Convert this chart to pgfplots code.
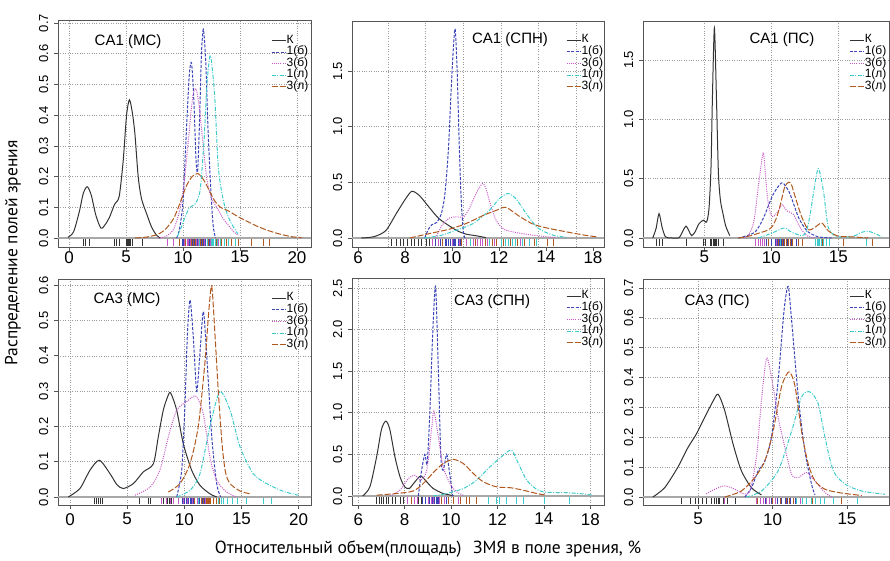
\documentclass[border=0pt]{standalone}
\usepackage{fontspec}
\setmainfont{Liberation Sans}
\newfontfamily\ptsans{PT Sans}
\usepackage{pgfplots}
\pgfplotsset{compat=1.18}
\definecolor{cK}{HTML}{333333}
\definecolor{cB}{HTML}{3A44B8}
\definecolor{cM}{HTML}{C658C6}
\definecolor{cC}{HTML}{3CCBCB}
\definecolor{cR}{HTML}{B0581E}
\definecolor{framec}{HTML}{555555}
\definecolor{gridc}{HTML}{9A9A9A}
\definecolor{zeroc}{HTML}{A8A8A8}
\pgfplotsset{
 panel/.style={
  scale only axis, anchor=south west,
  axis line style={framec, line width=0.8pt},
  tick style={framec, line width=0.7pt},
  tick align=outside, major tick length=4pt,
  xtick pos=left, ytick pos=left,
  grid=major,
  grid style={gridc, dotted, line width=0.6pt},
  minor grid style={gridc, dotted, line width=0.6pt},
  /pgf/number format/assume math mode=true,
  xticklabel style={font=\fontsize{17}{17}\selectfont, inner sep=0pt},
  yticklabel style={font=\fontsize{13}{13}\selectfont, rotate=90, anchor=south, inner sep=5.5pt,
    /pgf/number format/fixed, /pgf/number format/fixed zerofill, /pgf/number format/precision=1},
  legend style={draw=none, fill=none, anchor=north west, font=\fontsize{12}{12}\selectfont,
    nodes={inner sep=0.5pt, text height=8pt, text depth=2.6pt}, row sep=0pt, cells={anchor=west}},
  legend image code/.code={\draw[##1, line width=0.9pt] (0pt,0pt) -- (14pt,0pt);},
  every axis plot/.append style={line width=1pt},
 },
 sK/.style={color=cK, solid, smooth, tension=0.45},
 sB/.style={color=cB, dash pattern=on 3pt off 1.5pt, smooth, tension=0.45},
 sM/.style={color=cM, dash pattern=on 1pt off 1.2pt, smooth, tension=0.45},
 sC/.style={color=cC, dash pattern=on 4pt off 1.5pt on 1pt off 1.5pt, smooth, tension=0.45},
 sR/.style={color=cR, dash pattern=on 6pt off 2pt, smooth, tension=0.45},
 rugs/.style={only marks, mark=|, mark size=#1, mark options={solid, line width=0.7pt}, forget plot},
 zl/.style={zeroc, line width=1.4pt, forget plot},
}
\newcommand{\ttl}[3]{\node[font=\fontsize{15}{15}\selectfont] at (rel axis cs:#1,#2) {#3};}
\newcommand{\leg}{\addlegendentry{К}\addlegendentry{1(б)}\addlegendentry{3(б)}\addlegendentry{1(л)}\addlegendentry{3(л)}}
\begin{document}
\begin{tikzpicture}
\path[use as bounding box] (0pt,0pt) rectangle (890pt,560pt);
% ---------------- Panel 1: CA1 (MC)
\begin{axis}[panel, at={(58pt,313pt)}, width=253pt, height=227pt,
  xmin=-0.965, xmax=21.23, ymin=-0.0293, ymax=0.7101,
  xtick={0,5,10,15,20}, ytick={0,0.1,0.2,0.3,0.4,0.5,0.6,0.7},
  legend style={at={(0.830,0.945)}}]
\addplot[zl] coordinates {(-5,0) (30,0)};
\addplot[sK] coordinates {(-0.1,0.002) (0.4,0.02) (0.9,0.085) (1.25,0.145) (1.6,0.167) (1.95,0.14) (2.35,0.075) (2.8,0.032) (3.2,0.045) (3.58,0.07) (4.0,0.11) (4.4,0.135) (4.75,0.25) (5.05,0.4) (5.3,0.45) (5.55,0.41) (5.78,0.34) (6.07,0.2) (6.36,0.128) (6.8,0.08) (7.24,0.036) (7.68,0.009) (8.0,0)};
\addplot[sB] coordinates {(9.44,0) (9.7,0.03) (10.0,0.12) (10.3,0.35) (10.55,0.53) (10.75,0.57) (10.95,0.45) (11.15,0.25) (11.29,0.22) (11.45,0.38) (11.62,0.6) (11.79,0.68) (12.0,0.57) (12.2,0.35) (12.45,0.15) (12.65,0.04) (12.85,0)};
\addplot[sM] coordinates {(7.8,0) (8.5,0.005) (9.2,0.03) (9.7,0.09) (10.1,0.18) (10.5,0.33) (10.85,0.46) (11.15,0.485) (11.45,0.42) (11.8,0.29) (12.1,0.19) (12.5,0.13) (12.96,0.1) (13.5,0.065) (14.1,0.036) (14.5,0.018) (14.87,0.009)};
\addplot[sC] coordinates {(9.5,0.005) (9.8,0.03) (10.2,0.07) (10.6,0.1) (11.05,0.11) (11.5,0.155) (11.85,0.32) (12.1,0.5) (12.38,0.595) (12.6,0.54) (12.8,0.45) (13.1,0.23) (13.55,0.12) (14.1,0.058) (14.8,0.014)};
\addplot[sR] coordinates {(5.8,0) (6.8,0.003) (7.8,0.012) (8.5,0.03) (9.2,0.065) (9.8,0.12) (10.3,0.17) (10.8,0.2) (11.3,0.21) (11.8,0.19) (12.3,0.155) (12.8,0.12) (13.3,0.1) (14.0,0.088) (14.8,0.07) (15.6,0.055) (16.4,0.04) (17.2,0.028) (18.0,0.018) (18.8,0.01) (19.6,0.004) (20.4,0.001)};
\leg
\addplot[rugs=3.5pt, cK] table[header=false, x index=0, y expr=-0.0147, row sep=\\] {1.3\\1.45\\1.75\\4.0\\4.15\\4.4\\5.0\\5.1\\5.2\\5.3\\5.4\\5.55\\6.4\\};
\addplot[rugs=3.5pt, cB] table[header=false, x index=0, y expr=-0.0147, row sep=\\] {9.9\\10.0\\10.25\\10.4\\10.5\\10.6\\10.7\\10.8\\11.0\\11.3\\11.45\\11.6\\11.7\\11.8\\11.9\\12.0\\12.3\\};
\addplot[rugs=3.5pt, cM] table[header=false, x index=0, y expr=-0.0147, row sep=\\] {8.6\\9.15\\10.1\\10.35\\10.5\\10.65\\10.9\\11.05\\11.2\\11.35\\11.5\\11.9\\12.4\\12.8\\13.1\\};
\addplot[rugs=3.5pt, cC] table[header=false, x index=0, y expr=-0.0147, row sep=\\] {11.4\\12.1\\12.25\\12.5\\12.6\\12.7\\12.85\\13.0\\13.3\\13.6\\14.0\\14.6\\};
\addplot[rugs=3.5pt, cR] table[header=false, x index=0, y expr=-0.0147, row sep=\\] {9.7\\10.2\\10.7\\10.95\\11.1\\11.55\\11.7\\12.2\\12.9\\13.4\\13.8\\14.2\\14.9\\16.0\\17.07\\17.6\\};
\ttl{0.277}{0.903}{CA1 (МС)}
\end{axis}
% ---------------- Panel 2: CA1 (SPN)
\begin{axis}[panel, at={(352pt,313pt)}, width=252pt, height=226pt,
  xmin=5.745, xmax=16.47, ymin=-0.0809, ymax=1.9497,
  xtick={6,8,10,12,14,16}, xticklabels={6,8,10,12,14,18},
  xmajorgrids=false, xminorgrids=true, minor xtick={7.28,8.85,10.47,12.09,13.66,15.28}, minor tick length=0pt,
  ytick={0,0.5,1,1.5},
  legend style={at={(0.837,0.950)}}]
\addplot[zl] coordinates {(0,0) (30,0)};
\addplot[sK] coordinates {(6.14,0) (6.5,0.005) (6.8,0.02) (7.2,0.07) (7.63,0.22) (8.05,0.36) (8.3,0.42) (8.62,0.38) (9.05,0.27) (9.47,0.17) (10.18,0.07) (10.6,0.035) (11.03,0.02) (11.45,0.003)};
\addplot[sB] coordinates {(8.84,0) (9.0,0.08) (9.15,0.12) (9.35,0.14) (9.55,0.22) (9.7,0.4) (9.85,0.8) (9.98,1.4) (10.08,1.78) (10.14,1.87) (10.22,1.5) (10.3,0.9) (10.38,0.4) (10.47,0.08) (10.55,0)};
\addplot[sM] coordinates {(9.3,0) (9.6,0.12) (9.9,0.18) (10.2,0.19) (10.5,0.19) (10.75,0.27) (11.03,0.4) (11.3,0.49) (11.45,0.44) (11.6,0.33) (11.85,0.17) (12.2,0.08) (12.7,0.05) (13.3,0.03) (13.9,0.015) (14.4,0.003)};
\addplot[sC] coordinates {(8.8,0) (9.47,0.02) (10.18,0.07) (10.9,0.13) (11.6,0.25) (12.0,0.35) (12.38,0.4) (12.73,0.35) (13.16,0.22) (13.6,0.1) (14.0,0.05) (14.4,0.02) (14.9,0.005)};
\addplot[sR] coordinates {(8.2,0) (9.05,0.04) (9.9,0.08) (10.6,0.13) (11.3,0.2) (11.9,0.25) (12.3,0.275) (12.9,0.19) (13.45,0.125) (14.04,0.09) (14.9,0.054) (15.6,0.027) (16.2,0.009)};
\leg
\addplot[rugs=3.5pt, cK] table[header=false, x index=0, y expr=-0.0404, row sep=\\] {7.42\\7.65\\7.8\\7.95\\8.1\\8.25\\8.4\\8.55\\8.7\\8.9\\9.05\\};
\addplot[rugs=3.5pt, cB] table[header=false, x index=0, y expr=-0.0404, row sep=\\] {9.3\\9.5\\9.6\\9.7\\9.78\\9.85\\9.95\\10.05\\10.1\\10.15\\10.25\\10.35\\};
\addplot[rugs=3.5pt, cM] table[header=false, x index=0, y expr=-0.0404, row sep=\\] {9.15\\9.4\\10.0\\10.3\\10.6\\10.9\\11.1\\11.2\\11.3\\11.4\\11.5\\11.8\\12.2\\12.9\\};
\addplot[rugs=3.5pt, cC] table[header=false, x index=0, y expr=-0.0404, row sep=\\] {10.8\\11.6\\11.9\\12.1\\12.25\\12.4\\12.55\\12.7\\13.0\\13.3\\13.6\\};
\addplot[rugs=3.5pt, cR] table[header=false, x index=0, y expr=-0.0404, row sep=\\] {9.6\\10.4\\11.0\\11.4\\11.7\\11.9\\12.2\\12.5\\12.8\\13.1\\13.5\\14.05\\14.3\\};
\ttl{0.627}{0.916}{CA1 (СПН)}
\end{axis}
% ---------------- Panel 3: CA1 (PS)
\begin{axis}[panel, at={(643pt,313pt)}, width=246pt, height=226pt,
  xmin=0.425, xmax=18.78, ymin=-0.0758, ymax=1.828,
  xtick={5,10,15}, ytick={0,0.5,1,1.5},
  legend style={at={(0.826,0.950)}}]
\addplot[zl] coordinates {(-5,0) (30,0)};
\addplot[sK] coordinates {(1.15,0) (1.4,0.08) (1.62,0.205) (1.85,0.09) (2.1,0.01) (2.5,0.001) (3.1,0.002) (3.4,0.06) (3.63,0.1) (3.85,0.06) (4.05,0.02) (4.3,0.05) (4.6,0.12) (4.93,0.15) (5.17,0.135) (5.35,0.25) (5.5,0.6) (5.6,1.16) (5.75,1.77) (5.9,1.2) (6.05,0.55) (6.2,0.32) (6.4,0.2) (6.6,0.1) (6.9,0.02)};
\addplot[sB] coordinates {(7.54,0) (8.2,0.02) (8.78,0.05) (9.2,0.12) (9.53,0.2) (10.15,0.37) (10.77,0.465) (11.1,0.43) (11.4,0.37) (12.0,0.18) (12.4,0.1) (12.76,0.05) (13.5,0.01) (14.5,0)};
\addplot[sM] coordinates {(8.0,0.005) (8.28,0.02) (8.6,0.1) (8.78,0.2) (9.15,0.54) (9.4,0.72) (9.55,0.55) (9.73,0.32) (9.95,0.2) (10.15,0.18) (10.52,0.23) (10.82,0.28) (11.14,0.23) (11.64,0.2) (12.14,0.09) (12.64,0.02) (13.26,0)};
\addplot[sC] coordinates {(9.03,0) (10.02,0.04) (10.6,0.07) (11.0,0.085) (11.5,0.05) (12.26,0.02) (12.6,0.05) (12.9,0.2) (13.13,0.37) (13.5,0.585) (13.88,0.4) (14.1,0.2) (14.25,0.09) (14.6,0.03) (15.0,0.01) (15.8,0.01) (16.24,0.02) (16.8,0.05) (17.24,0.056) (17.7,0.04) (18.23,0.01)};
\addplot[sR] coordinates {(7.54,0) (8.5,0.02) (9.03,0.04) (9.6,0.06) (10.02,0.09) (10.35,0.16) (10.65,0.27) (11.0,0.43) (11.3,0.47) (11.5,0.45) (11.77,0.35) (12.26,0.18) (12.76,0.07) (13.26,0.09) (13.76,0.127) (14.25,0.06) (15.0,0.015) (16.0,0.01) (17.24,0)};
\leg
\addplot[rugs=3.5pt, cK] table[header=false, x index=0, y expr=-0.0379, row sep=\\] {1.44\\1.61\\1.87\\3.68\\4.93\\5.1\\5.45\\5.55\\5.65\\5.72\\5.78\\5.85\\5.92\\6.05\\6.42\\};
\addplot[rugs=3.5pt, cB] table[header=false, x index=0, y expr=-0.0379, row sep=\\] {9.6\\10.0\\10.3\\10.45\\10.6\\10.75\\10.9\\11.2\\11.5\\11.9\\};
\addplot[rugs=3.5pt, cM] table[header=false, x index=0, y expr=-0.0379, row sep=\\] {8.8\\9.0\\9.2\\9.3\\9.35\\9.45\\9.5\\10.4\\10.8\\10.95\\11.3\\};
\addplot[rugs=3.5pt, cC] table[header=false, x index=0, y expr=-0.0379, row sep=\\] {10.7\\11.0\\13.3\\13.4\\13.5\\13.6\\13.7\\13.9\\14.1\\14.3\\17.1\\};
\addplot[rugs=3.5pt, cR] table[header=false, x index=0, y expr=-0.0379, row sep=\\] {9.8\\10.5\\10.8\\11.0\\11.15\\11.3\\11.45\\11.6\\12.0\\12.3\\13.8\\15.4\\17.5\\};
\ttl{0.565}{0.916}{CA1 (ПС)}
\end{axis}
% ---------------- Panel 4: CA3 (MC)
\begin{axis}[panel, at={(58pt,55pt)}, width=253pt, height=226pt,
  xmin=-1.05, xmax=21.08, ymin=-0.0227, ymax=0.6176,
  xtick={0,5,10,15,20}, ytick={0,0.1,0.2,0.3,0.4,0.5,0.6},
  xticklabel style={yshift=-4pt},
  legend style={at={(0.830,0.950)}}]
\addplot[zl] coordinates {(-5,0) (30,0)};
\addplot[sK] coordinates {(-0.15,0) (0.87,0.024) (1.75,0.076) (2.57,0.104) (3.5,0.066) (4.1,0.035) (4.66,0.024) (5.54,0.038) (6.41,0.071) (7.29,0.094) (7.72,0.17) (8.16,0.246) (8.55,0.285) (8.8,0.295) (9.33,0.246) (9.91,0.151) (10.64,0.076) (11.37,0.033) (12.24,0.009) (12.83,0)};
\addplot[sB] coordinates {(9.33,0) (9.77,0.076) (10.06,0.265) (10.26,0.454) (10.5,0.558) (10.79,0.45) (11.08,0.3) (11.35,0.4) (11.66,0.525) (11.95,0.406) (12.4,0.17) (12.83,0.038) (13.18,0)};
\addplot[sM] coordinates {(5.69,0.005) (7.0,0.028) (7.87,0.076) (8.6,0.17) (9.33,0.246) (10.2,0.27) (11.0,0.286) (11.66,0.236) (12.24,0.113) (12.83,0.047) (13.7,0.014) (14.58,0)};
\addplot[sC] coordinates {(9.33,0) (10.5,0.019) (11.37,0.066) (12.24,0.2) (13.1,0.298) (14.0,0.246) (14.87,0.142) (16.03,0.066) (17.2,0.038) (18.66,0.016) (19.97,0.005)};
\addplot[sR] coordinates {(8.6,0.014) (9.62,0.038) (10.5,0.095) (11.22,0.2) (11.8,0.38) (12.15,0.53) (12.4,0.597) (12.7,0.45) (12.97,0.3) (13.3,0.15) (13.6,0.07) (14.0,0.038) (14.87,0.017) (15.74,0.009)};
\leg
\addplot[rugs=3pt, cK] table[header=false, x index=0, y expr=-0.0113, row sep=\\] {2.1\\2.3\\2.5\\2.65\\2.85\\6.1\\6.85\\7.05\\8.2\\8.5\\8.7\\8.9\\};
\addplot[rugs=3pt, cB] table[header=false, x index=0, y expr=-0.0113, row sep=\\] {9.8\\10.0\\10.2\\10.35\\10.5\\10.65\\10.8\\11.3\\11.45\\11.6\\11.75\\11.9\\};
\addplot[rugs=3pt, cM] table[header=false, x index=0, y expr=-0.0113, row sep=\\] {8.0\\8.4\\8.8\\9.0\\9.5\\9.9\\10.3\\10.7\\11.1\\11.8\\};
\addplot[rugs=3pt, cC] table[header=false, x index=0, y expr=-0.0113, row sep=\\] {11.2\\12.5\\13.0\\13.2\\13.4\\13.8\\14.2\\14.6\\15.45\\16.9\\17.6\\};
\addplot[rugs=3pt, cR] table[header=false, x index=0, y expr=-0.0113, row sep=\\] {10.9\\11.5\\11.7\\11.9\\12.0\\12.1\\12.2\\12.3\\12.5\\12.8\\13.1\\};
\ttl{0.273}{0.907}{CA3 (МС)}
\end{axis}
% ---------------- Panel 5: CA3 (SPN)
\begin{axis}[panel, at={(352pt,55pt)}, width=252pt, height=227pt,
  xmin=5.73, xmax=16.59, ymin=-0.1082, ymax=2.620,
  xtick={6,8,10,12,14,16}, xticklabels={6,8,10,12,14,18},
  ytick={0,0.5,1,1.5,2,2.5},
  xticklabel style={yshift=-4pt},
  legend style={at={(0.837,0.955)}}]
\addplot[zl] coordinates {(0,0) (30,0)};
\addplot[sK] coordinates {(6.19,0) (6.5,0.11) (6.79,0.47) (7.0,0.8) (7.19,0.9) (7.36,0.8) (7.58,0.47) (7.8,0.23) (8.0,0.11) (8.2,0.09) (8.44,0.17) (8.69,0.24) (8.95,0.17) (9.23,0.09) (9.66,0.03) (10.1,0.005)};
\addplot[sB] coordinates {(8.59,0) (8.73,0.31) (8.87,0.5) (8.97,0.39) (9.09,1.04) (9.2,1.9) (9.33,2.52) (9.45,1.52) (9.56,0.47) (9.66,0.31) (9.81,0.5) (9.92,0.31) (10.07,0)};
\addplot[sM] coordinates {(7.36,0) (7.8,0.07) (8.16,0.21) (8.44,0.25) (8.69,0.19) (8.95,0.31) (9.16,0.8) (9.26,1.02) (9.45,0.71) (9.66,0.35) (9.95,0.15) (10.24,0.05) (10.53,0.01)};
\addplot[sC] coordinates {(9.23,0) (9.81,0.03) (10.53,0.09) (11.1,0.19) (11.67,0.35) (12.25,0.49) (12.61,0.55) (12.9,0.39) (13.26,0.19) (13.69,0.08) (14.1,0.045) (14.98,0.04) (15.7,0.025) (16.1,0.01)};
\addplot[sR] coordinates {(6.79,0.01) (7.65,0.03) (8.37,0.06) (8.8,0.15) (9.23,0.28) (9.66,0.39) (10.1,0.44) (10.53,0.39) (10.96,0.27) (11.39,0.17) (11.96,0.11) (12.54,0.1) (13.1,0.07) (13.69,0.03) (14.1,0.01)};
\leg
\addplot[rugs=3.5pt, cK] table[header=false, x index=0, y expr=-0.0541, row sep=\\] {6.8\\6.9\\7.0\\7.1\\7.2\\7.3\\7.45\\7.6\\7.8\\7.95\\8.6\\8.7\\};
\addplot[rugs=3.5pt, cB] table[header=false, x index=0, y expr=-0.0541, row sep=\\] {8.75\\8.9\\9.05\\9.2\\9.3\\9.35\\9.4\\9.45\\9.8\\9.9\\};
\addplot[rugs=3.5pt, cM] table[header=false, x index=0, y expr=-0.0541, row sep=\\] {8.1\\8.4\\8.55\\9.0\\9.15\\9.25\\9.5\\9.7\\10.3\\};
\addplot[rugs=3.5pt, cC] table[header=false, x index=0, y expr=-0.0541, row sep=\\] {11.6\\11.96\\12.1\\12.4\\12.8\\13.1\\14.0\\15.1\\};
\addplot[rugs=3.5pt, cR] table[header=false, x index=0, y expr=-0.0541, row sep=\\] {8.3\\9.6\\9.9\\10.1\\10.4\\10.65\\10.8\\11.1\\};
\ttl{0.556}{0.894}{CA3 (СПН)}
\end{axis}
% ---------------- Panel 6: CA3 (PS)
\begin{axis}[panel, at={(643pt,55pt)}, width=246pt, height=226pt,
  xmin=1.309, xmax=17.82, ymin=-0.0268, ymax=0.730,
  xtick={5,10,15}, ytick={0,0.1,0.2,0.3,0.4,0.5,0.6,0.7},
  xticklabel style={yshift=-4pt},
  legend style={at={(0.826,0.959)}}]
\addplot[zl] coordinates {(-5,0) (30,0)};
\addplot[sK] coordinates {(1.97,0) (2.76,0.031) (3.65,0.1) (4.33,0.166) (4.89,0.211) (5.45,0.267) (6.0,0.32) (6.35,0.344) (6.79,0.29) (7.35,0.178) (7.91,0.088) (8.59,0.031) (9.26,0.007)};
\addplot[sB] coordinates {(8.14,0) (8.59,0.031) (9.04,0.088) (9.48,0.12) (9.93,0.2) (10.38,0.39) (10.78,0.627) (11.05,0.705) (11.28,0.593) (11.73,0.335) (12.17,0.155) (12.62,0.043) (12.85,0.007)};
\addplot[sM] coordinates {(5.56,0.011) (6.12,0.026) (6.79,0.037) (7.47,0.026) (8.03,0.011) (8.48,0.02) (8.92,0.133) (9.26,0.324) (9.6,0.464) (9.93,0.402) (10.38,0.267) (10.83,0.166) (11.28,0.076) (11.73,0.065) (12.29,0.082) (12.85,0.054) (13.52,0.015) (13.97,0)};
\addplot[sC] coordinates {(8.25,0) (9.26,0.02) (10.38,0.088) (11.28,0.22) (11.95,0.335) (12.51,0.352) (13.07,0.312) (13.52,0.2) (14.08,0.088) (14.87,0.043) (15.99,0.02) (17.56,0.009)};
\addplot[sR] coordinates {(6.79,0) (7.91,0.02) (8.81,0.065) (9.48,0.12) (10.04,0.22) (10.6,0.368) (11.1,0.419) (11.5,0.374) (11.95,0.22) (12.4,0.11) (12.85,0.054) (13.52,0.026) (14.42,0.015) (15.3,0.009) (15.99,0.005)};
\leg
\addplot[rugs=3pt, cK] table[header=false, x index=0, y expr=-0.0134, row sep=\\] {3.9\\4.5\\4.8\\5.0\\5.3\\5.55\\5.9\\6.1\\6.25\\6.35\\6.45\\6.7\\7.0\\7.5\\};
\addplot[rugs=3pt, cB] table[header=false, x index=0, y expr=-0.0134, row sep=\\] {9.5\\9.9\\10.3\\10.6\\10.85\\11.0\\11.2\\11.5\\};
\addplot[rugs=3pt, cM] table[header=false, x index=0, y expr=-0.0134, row sep=\\] {6.8\\8.9\\9.2\\9.4\\9.6\\9.8\\10.2\\11.9\\};
\addplot[rugs=3pt, cC] table[header=false, x index=0, y expr=-0.0134, row sep=\\] {11.6\\12.0\\12.3\\12.6\\12.9\\13.2\\13.5\\14.1\\15.7\\};
\addplot[rugs=3pt, cR] table[header=false, x index=0, y expr=-0.0134, row sep=\\] {9.0\\10.0\\10.5\\10.9\\11.1\\11.4\\12.7\\14.6\\};
\ttl{0.301}{0.898}{CA3 (ПС)}
\end{axis}
\node[font=\ptsans\fontsize{17.5}{17.5}\selectfont, rotate=90] at (13pt,307pt) {Распределение полей зрения};
\node[font=\ptsans\fontsize{17.5}{17.5}\selectfont] at (428pt,11pt) {Относительный объем(площадь)\hspace{0.4em} ЗМЯ в поле зрения, \%};
\end{tikzpicture}
\end{document}
